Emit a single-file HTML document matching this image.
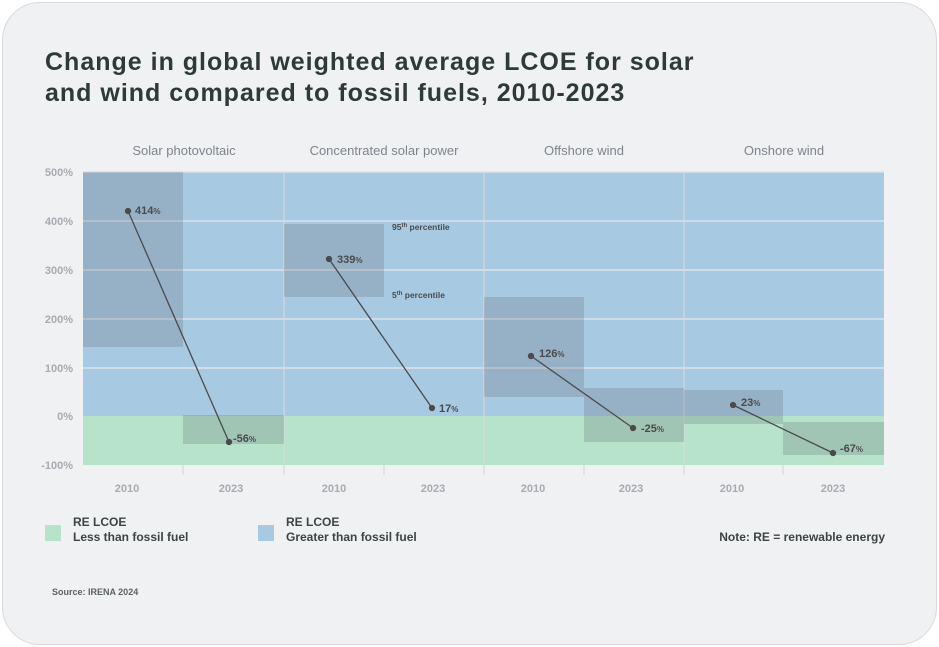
<!DOCTYPE html>
<html><head><meta charset="utf-8"><style>
body{margin:0;background:#fff;width:939px;height:647px;overflow:hidden;font-family:"Liberation Sans",sans-serif}
.card{position:absolute;left:2px;top:2px;width:933px;height:641px;background:#f0f1f3;border-radius:38px;border:1px solid #d8dadd}
</style></head><body>
<div class="card"></div>
<svg width="939" height="647" style="position:absolute;left:0;top:0" font-family="Liberation Sans, sans-serif">
<text x="45" y="70" font-size="25" font-weight="bold" fill="#2d3a36" letter-spacing="1">Change in global weighted average LCOE for solar</text>
<text x="45" y="101" font-size="25" font-weight="bold" fill="#2d3a36" letter-spacing="1">and wind compared to fossil fuels, 2010-2023</text>
<g font-size="13" fill="#7d848c" text-anchor="middle">
<text x="184" y="155">Solar photovoltaic</text>
<text x="384" y="155">Concentrated solar power</text>
<text x="584" y="155">Offshore wind</text>
<text x="784" y="155">Onshore wind</text>
</g>
<rect x="83" y="172" width="801" height="244" fill="#a8c9e2"/>
<rect x="83" y="416" width="801" height="49" fill="#b7e3cb"/>
<g stroke="#dde3e8" stroke-width="1.5">
<line x1="83" y1="221" x2="884" y2="221"/><line x1="83" y1="270" x2="884" y2="270"/><line x1="83" y1="319" x2="884" y2="319"/><line x1="83" y1="368" x2="884" y2="368"/><line x1="83" y1="172" x2="884" y2="172"/>
</g>
<g stroke="#d6d9dd" stroke-width="1.2">
<line x1="284" y1="172" x2="284" y2="475"/><line x1="484" y1="172" x2="484" y2="475"/><line x1="684" y1="172" x2="684" y2="475"/>
<line x1="183" y1="465" x2="183" y2="475"/><line x1="384" y1="465" x2="384" y2="475"/><line x1="584" y1="465" x2="584" y2="475"/><line x1="783" y1="465" x2="783" y2="475"/>
</g>
<g fill="rgba(90,100,110,0.23)">
<rect x="83" y="172" width="100" height="175"/>
<rect x="183" y="415" width="101" height="29"/>
<rect x="284" y="224" width="100" height="73"/>
<rect x="484" y="297" width="100" height="100"/>
<rect x="584" y="388" width="100" height="54"/>
<rect x="684" y="390" width="99" height="34"/>
<rect x="783" y="422" width="101" height="33"/>
</g>
<g stroke="#4a4a4c" stroke-width="1.3" fill="#4a4a4c">
<line x1="128" y1="211" x2="229" y2="442"/><circle cx="128" cy="211" r="2.5"/><circle cx="229" cy="442" r="2.5"/>
<line x1="329" y1="259" x2="432" y2="408"/><circle cx="329" cy="259" r="2.5"/><circle cx="432" cy="408" r="2.5"/>
<line x1="531" y1="356" x2="633" y2="428"/><circle cx="531" cy="356" r="2.5"/><circle cx="633" cy="428" r="2.5"/>
<line x1="733" y1="405" x2="833" y2="453"/><circle cx="733" cy="405" r="2.5"/><circle cx="833" cy="453" r="2.5"/>
</g>
<g font-size="11" font-weight="bold" fill="#4a4a4c">
<text x="135" y="214">414<tspan font-size="8">%</tspan></text>
<text x="233" y="442">-56<tspan font-size="8">%</tspan></text>
<text x="337" y="263">339<tspan font-size="8">%</tspan></text>
<text x="439" y="412">17<tspan font-size="8">%</tspan></text>
<text x="539" y="357">126<tspan font-size="8">%</tspan></text>
<text x="641" y="432">-25<tspan font-size="8">%</tspan></text>
<text x="741" y="406">23<tspan font-size="8">%</tspan></text>
<text x="840" y="452">-67<tspan font-size="8">%</tspan></text>
<text x="392" y="230" font-size="8.5">95<tspan font-size="6" dy="-3">th</tspan><tspan dy="3"> percentile</tspan></text>
<text x="392" y="298" font-size="8.5">5<tspan font-size="6" dy="-3">th</tspan><tspan dy="3"> percentile</tspan></text>
</g>
<g font-size="11" fill="#a6abb1" font-weight="bold" text-anchor="end">
<text x="73" y="176">500%</text><text x="73" y="225">400%</text><text x="73" y="274">300%</text><text x="73" y="323">200%</text><text x="73" y="372">100%</text><text x="73" y="420">0%</text><text x="73" y="469">-100%</text>
</g>
<g font-size="11" fill="#a6abb1" font-weight="bold" text-anchor="middle">
<text x="127" y="492">2010</text><text x="231" y="492">2023</text><text x="334" y="492">2010</text><text x="433" y="492">2023</text><text x="533" y="492">2010</text><text x="631" y="492">2023</text><text x="732" y="492">2010</text><text x="833" y="492">2023</text>
</g>
<rect x="45" y="525" width="16" height="16" fill="#b7e3cb"/>
<rect x="258" y="525" width="16" height="16" fill="#a8c9e2"/>
<g font-size="12" font-weight="bold" fill="#3b4542">
<text x="73" y="526">RE LCOE</text><text x="73" y="541">Less than fossil fuel</text>
<text x="286" y="526">RE LCOE</text><text x="286" y="541">Greater than fossil fuel</text>
<text x="885" y="541" text-anchor="end">Note: RE = renewable energy</text>
<text x="52" y="595" font-size="9" fill="#5a6360">Source: IRENA 2024</text>
</g>
</svg>
</body></html>
